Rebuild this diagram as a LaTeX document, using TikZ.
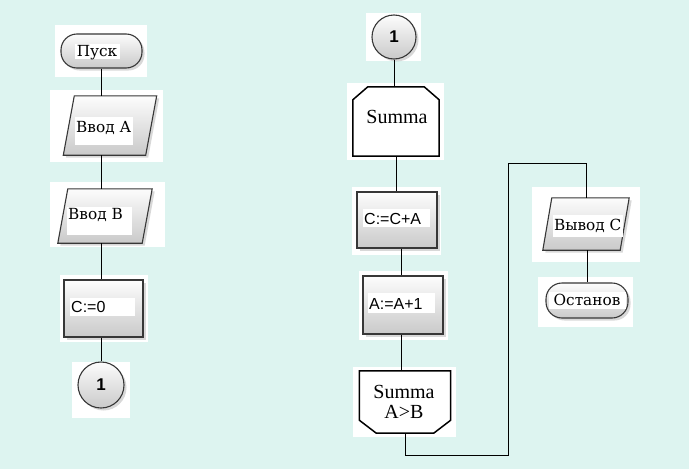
\documentclass[tikz,border=0pt]{standalone}
\usepackage{fontspec}
\setmainfont{Liberation Serif}
\newfontfamily\sansf{Liberation Sans}
\newfontfamily\cyrf{DejaVu Serif}
\usetikzlibrary{shadows,calc}
\definecolor{bgc}{RGB}{221,244,240}
\definecolor{edgec}{RGB}{55,55,55}
\begin{document}
\begin{tikzpicture}[x=1pt,y=-1pt,
  boxbase/.style={draw=edgec, line width=1.1pt, top color=gray!2, bottom color=gray!42,
     drop shadow={shadow xshift=2.5pt, shadow yshift=-2.5pt, opacity=0.3}, inner sep=0pt},
  term/.style={boxbase, rectangle, rounded corners=16pt},
  proc/.style={boxbase, rectangle},
  frame/.style={rectangle, inner sep=0pt},
  conn/.style={boxbase, circle},
  loopline/.style={draw=black, line width=1.5pt, fill=white},
  wire/.style={draw=black, line width=1pt},
  cyr/.style={font=\cyrf\fontsize{15.3}{18}\selectfont, inner sep=0pt},
  asg/.style={font=\sansf\fontsize{16}{18}\selectfont, inner sep=0pt},
  sum/.style={font=\fontsize{20}{22}\selectfont, inner sep=0pt},
  one/.style={font=\sansf\bfseries\fontsize{17}{19}\selectfont, inner sep=0pt},
]
\fill[bgc] (0,0) rectangle (689,469);
\useasboundingbox (0,0) rectangle (689,469);
% white patches behind the shapes
\fill[white] (55,25) rectangle (147,77);
\fill[white] (50,90) rectangle (163,162);
\fill[white] (50,182) rectangle (165,247);
\fill[white] (60,275) rectangle (148,342);
\fill[white] (72,362) rectangle (130,418);
\fill[white] (366,13) rectangle (421,61);
\fill[white] (347,83) rectangle (444,160);
\fill[white] (352,187) rectangle (441,255);
\fill[white] (359,271) rectangle (448,340);
\fill[white] (353,367) rectangle (456,437);
\fill[white] (532,187) rectangle (640,262);
\fill[white] (538,277) rectangle (633,327);
% shapes
\node[term, minimum width=81pt, minimum height=34pt] (pusk) at (101.5,51) {};
\node[frame, minimum width=93pt, minimum height=59pt] (va) at (110,125.5) {};
\node[frame, minimum width=94pt, minimum height=54pt] (vb) at (105,216) {};
\node[frame, minimum width=86pt, minimum height=52pt] (vc) at (586,224) {};
\path[boxbase] ($(va.north west)+(11,0)$) -- (va.north east) -- ($(va.south east)-(11,0)$) -- (va.south west) -- cycle;
\path[boxbase] ($(vb.north west)+(10,0)$) -- (vb.north east) -- ($(vb.south east)-(10,0)$) -- (vb.south west) -- cycle;
\path[boxbase] ($(vc.north west)+(9,0)$) -- (vc.north east) -- ($(vc.south east)-(9,0)$) -- (vc.south west) -- cycle;
\node[proc, minimum width=79pt, minimum height=57pt] (c0) at (103.5,308.5) {};
\node[conn, minimum size=46pt] (k1) at (101,385) {};
\node[conn, minimum size=44pt] (k2) at (394,37) {};
\node[frame, minimum width=86pt, minimum height=69pt] (sa) at (396,121.5) {};
\path[loopline] (sa.south west) -- ($(sa.north west)+(0,13)$) -- ($(sa.north west)+(15,0)$)
   -- ($(sa.north east)+(-15,0)$) -- ($(sa.north east)+(0,13)$) -- (sa.south east) -- cycle;
\node[proc, minimum width=80pt, minimum height=56pt] (cca) at (397,220) {};
\node[proc, minimum width=80pt, minimum height=58pt] (aa) at (403,305) {};
\node[frame, minimum width=91pt, minimum height=62pt] (sb) at (405,402) {};
\path[loopline] (sb.north west) -- (sb.north east) -- ($(sb.south east)+(0,-13)$) -- ($(sb.south east)+(-17,0)$)
   -- ($(sb.south west)+(17,0)$) -- ($(sb.south west)+(0,-13)$) -- cycle;
\node[term, minimum width=82pt, minimum height=35pt] (ost) at (587,300.5) {};
% connectors
\coordinate (b1) at (508,455);
\coordinate (b2) at (508,163);
\coordinate (xr) at (401,0);
\draw[wire] (pusk.south) -- (pusk.south |- va.north);
\draw[wire] (va.south -| pusk.south) -- (pusk.south |- vb.north);
\draw[wire] (vb.south -| pusk.south) -- (pusk.south |- c0.north);
\draw[wire] (c0.south -| k1.north) -- (k1.north);
\draw[wire] (k2.south) -- (k2.south |- sa.north);
\draw[wire] (sa.south) -- (sa.south |- cca.north);
\draw[wire] (cca.south -| xr) -- (aa.north -| xr);
\draw[wire] (aa.south -| xr) -- (sb.north -| xr);
\draw[wire] (sb.south) |- (b1) -- (b2) -| (vc.north);
\draw[wire] (vc.south -| ost.north) -- (ost.north);
% white label areas
\fill[white] (75,44) rectangle (120,59);
\fill[white] (75,117) rectangle (133,145);
\fill[white] (67,207) rectangle (132,235);
\fill[white] (70,298) rectangle (135,316);
\fill[white] (363,209) rectangle (430,227);
\fill[white] (368,293) rectangle (435,313);
\fill[white] (553,215) rectangle (623,237);
\fill[white] (549,292) rectangle (626,309);
% texts
\node[cyr, anchor=base] (tpusk) at (97,56.5) {Пуск};
\node[cyr, anchor=base west] (tva) at (76,132.5) {Ввод А};
\node[cyr, anchor=base west] (tvb) at (68,219.5) {Ввод В};
\node[asg, anchor=base west] (tc0) at (71,312) {C:=0};
\node[one] (tk1) at (101,385) {1};
\node[one] (tk2) at (394,37) {1};
\node[sum, anchor=base] (tsa) at (397,123) {Summa};
\node[asg, anchor=base west] (tcca) at (364,224) {C:=C+A};
\node[asg, anchor=base west] (taa) at (369,309) {A:=A+1};
\node[sum, anchor=base] (tsb1) at (404,398) {Summa};
\node[sum, anchor=base] (tsb2) at (404,418) {A>B};
\node[cyr, anchor=base west] (tvc) at (554,230.5) {Вывод С};
\node[cyr, anchor=base] (tost) at (587,305.5) {Останов};
\end{tikzpicture}
\end{document}
